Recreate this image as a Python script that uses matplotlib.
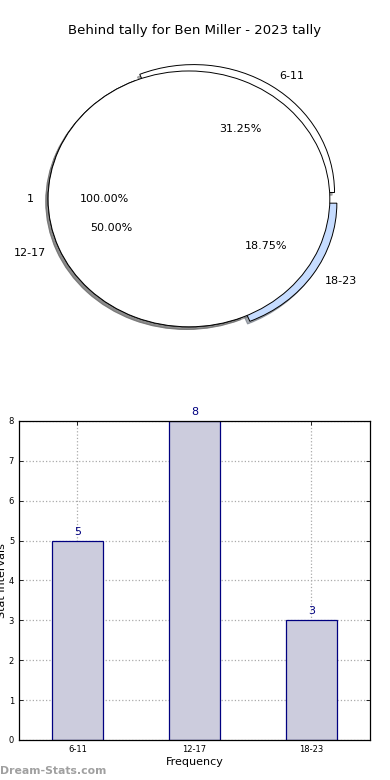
import matplotlib
matplotlib.use("Agg")
import matplotlib.pyplot as plt

title = "Behind tally for Ben Miller - 2023 tally"
categories = ["6-11", "12-17", "18-23"]
counts = [5, 8, 3]
overall_label = ["1"]
overall_value = [1]

pie_colors = ["white", "white", "#c6dcff"]
explode = [0.06, 0.0, 0.06]

fig = plt.figure(figsize=(3.9, 7.8), dpi=100)
fig.patch.set_facecolor("white")

shadow = dict(ox=-0.012, oy=-0.015, shade=0.6)

# Pie
axp = fig.add_axes([0.033, 0.540, 0.903, 0.410])
axp.pie(counts, labels=categories, colors=pie_colors, explode=explode,
        autopct="%.2f%%", shadow=shadow, startangle=0,
        wedgeprops=dict(edgecolor="black", linewidth=0.7),
        textprops=dict(fontsize=8))
axp.pie(overall_value, labels=overall_label, colors=["white"],
        autopct="%.2f%%", shadow=shadow, startangle=0,
        wedgeprops=dict(edgecolor="black", linewidth=0.7),
        textprops=dict(fontsize=8))
axp.set_aspect("auto")
axp.set_xlim(-1.25, 1.25)
axp.set_ylim(-1.25, 1.25)
fig.text(0.5, 0.961, title, ha="center", va="center", fontsize=9.5)

# Bars
axb = fig.add_axes([0.0487, 0.0513, 0.9, 0.409])
x = list(range(len(categories)))
bars = axb.bar(x, counts, width=0.44, color="#ccccdd", edgecolor="navy", linewidth=0.9, zorder=2)
for xi, v in zip(x, counts):
    axb.text(xi, v + 0.1, str(v), ha="center", va="bottom", color="navy", fontsize=8)
axb.set_xlim(-0.5, 2.5)
axb.set_ylim(0, 8)
axb.set_xticks(x)
axb.set_xticklabels(categories, fontsize=6)
axb.set_yticks(range(0, 9))
axb.tick_params(axis="y", labelsize=6)
axb.tick_params(direction="in", top=True, right=True, length=3, width=0.6)
axb.grid(True, linestyle=":", color="#aaaaaa", linewidth=0.9, zorder=0)
axb.set_axisbelow(True)
axb.set_xlabel("Frequency", fontsize=8, labelpad=2)
axb.set_ylabel("Stat Intervals", fontsize=8, labelpad=1)
for s in axb.spines.values():
    s.set_linewidth(0.9)

fig.text(0.0, 0.012, "Dream-Stats.com", color="#a0a0a0", fontsize=7.8,
         fontweight="bold", ha="left", va="center")

fig.savefig("out.png", dpi=100, facecolor="white")
